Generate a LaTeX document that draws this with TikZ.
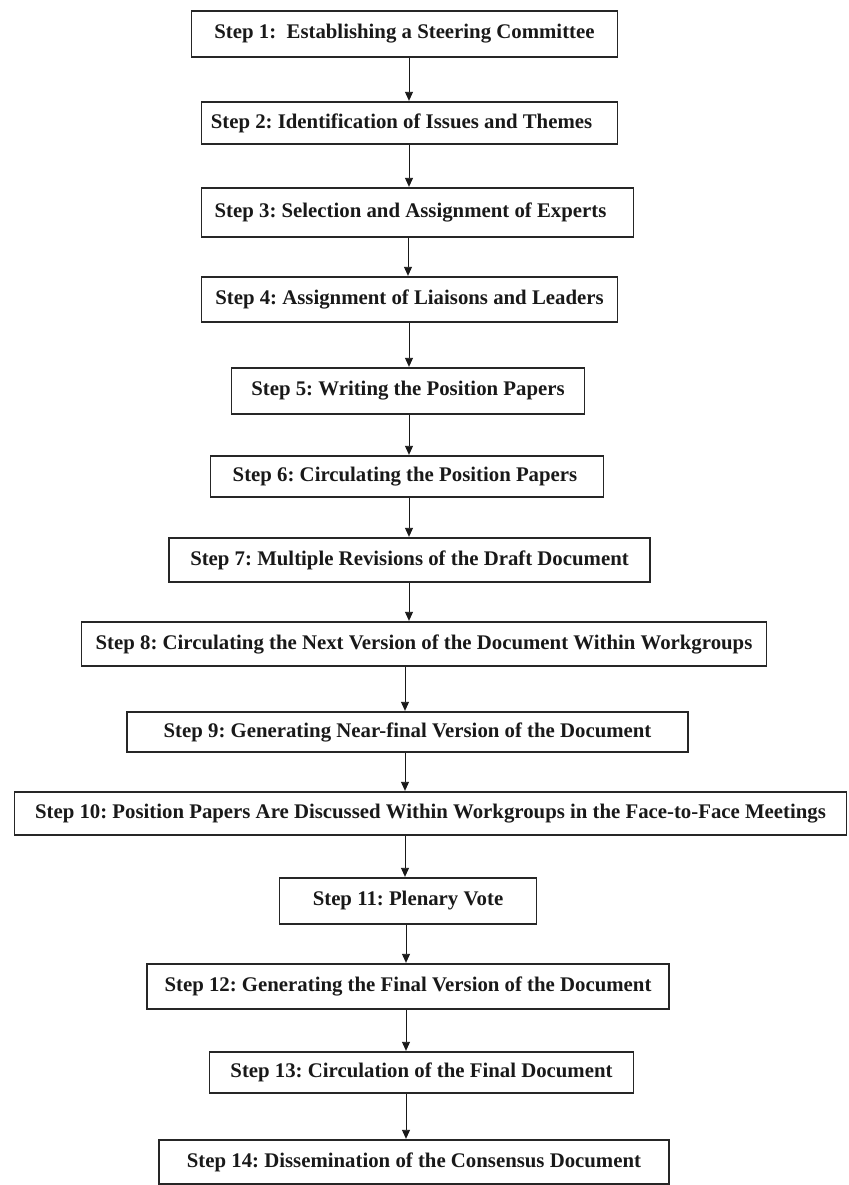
\documentclass[tikz,border=0pt]{standalone}
\usepackage{fontspec}
\setmainfont{Liberation Serif}
\usetikzlibrary{arrows.meta}
\frenchspacing
\tikzset{
  stepbox/.style={draw=black!85, line width=1.3bp, rectangle, inner sep=0pt},
  steptext/.style={inner sep=0pt, font=\fontsize{20.8bp}{25bp}\selectfont\bfseries, text=black!90},
  arr/.style={draw=black!90, line width=0.9bp, -{Triangle[length=9bp,width=8bp]}, shorten >=0.6bp}
}
\newcommand{\stepnode}[7]{%
  % #1 name, #2 left, #3 right, #4 top, #5 bottom, #6 text dx, #7 text
  \node[stepbox, minimum width={(#3)-(#2)}, minimum height={(#5)-(#4)}] (#1) at ({((#2)+(#3))/2},{((#4)+(#5))/2}) {};
  \node[steptext] (#1t) at ([xshift=#6 bp]#1.center) {#7};
}
\begin{document}
\begin{tikzpicture}[x=1bp, y=-1bp]
\useasboundingbox (0,0) rectangle (849,1185);
\stepnode{s1}{191}{618}{11}{57}{0}{Step 1:\ \ Establishing a Steering Committee}
\stepnode{s2}{201}{618}{102}{144}{-8}{Step 2: Identification of Issues and Themes}
\stepnode{s3}{201}{634}{188}{237}{-7}{Step 3: Selection and Assignment of Experts}
\stepnode{s4}{201}{618}{277}{322}{0}{Step 4: Assignment of Liaisons and Leaders}
\stepnode{s5}{231}{585}{368}{414}{0}{Step 5: Writing the Position Papers}
\stepnode{s6}{210}{604}{456}{497}{-2}{Step 6: Circulating the Position Papers}
\stepnode{s7}{168}{651}{538}{582}{0}{Step 7: Multiple Revisions of the Draft Document}
\stepnode{s8}{80}{768}{622}{666}{0}{Step 8: Circulating the Next Version of the Document Within Workgroups}
\stepnode{s9}{126}{689}{712}{752}{0}{Step 9: Generating Near-final Version of the Document}
\stepnode{s10}{13}{848}{792}{835}{0}{Step 10: Position Papers Are Discussed Within Workgroups in the Face-to-Face Meetings}
\stepnode{s11}{279}{537}{878}{924}{0}{Step 11: Plenary Vote}
\stepnode{s12}{146}{670}{964}{1009}{0}{Step 12: Generating the Final Version of the Document}
\stepnode{s13}{209}{634}{1052}{1093}{0}{Step 13: Circulation of the Final Document}
\stepnode{s14}{158}{670}{1140}{1184}{0}{Step 14: Dissemination of the Consensus Document}
% arrow columns
\coordinate (c1) at (409,0);
\coordinate (c2) at (409,0);
\coordinate (c3) at (408,0);
\coordinate (c4) at (409,0);
\coordinate (c5) at (409,0);
\coordinate (c6) at (409,0);
\coordinate (c7) at (409,0);
\coordinate (c8) at (405,0);
\coordinate (c9) at (405,0);
\coordinate (c10) at (405,0);
\coordinate (c11) at (406,0);
\coordinate (c12) at (406,0);
\coordinate (c13) at (406,0);
\foreach \a/\b/\c in {s1/s2/c1, s2/s3/c2, s3/s4/c3, s4/s5/c4, s5/s6/c5, s6/s7/c6, s7/s8/c7, s8/s9/c8, s9/s10/c9, s10/s11/c10, s11/s12/c11, s12/s13/c12, s13/s14/c13}
  \draw[arr] (\a.south -| \c) -- (\b.north -| \c);
\end{tikzpicture}
\end{document}
